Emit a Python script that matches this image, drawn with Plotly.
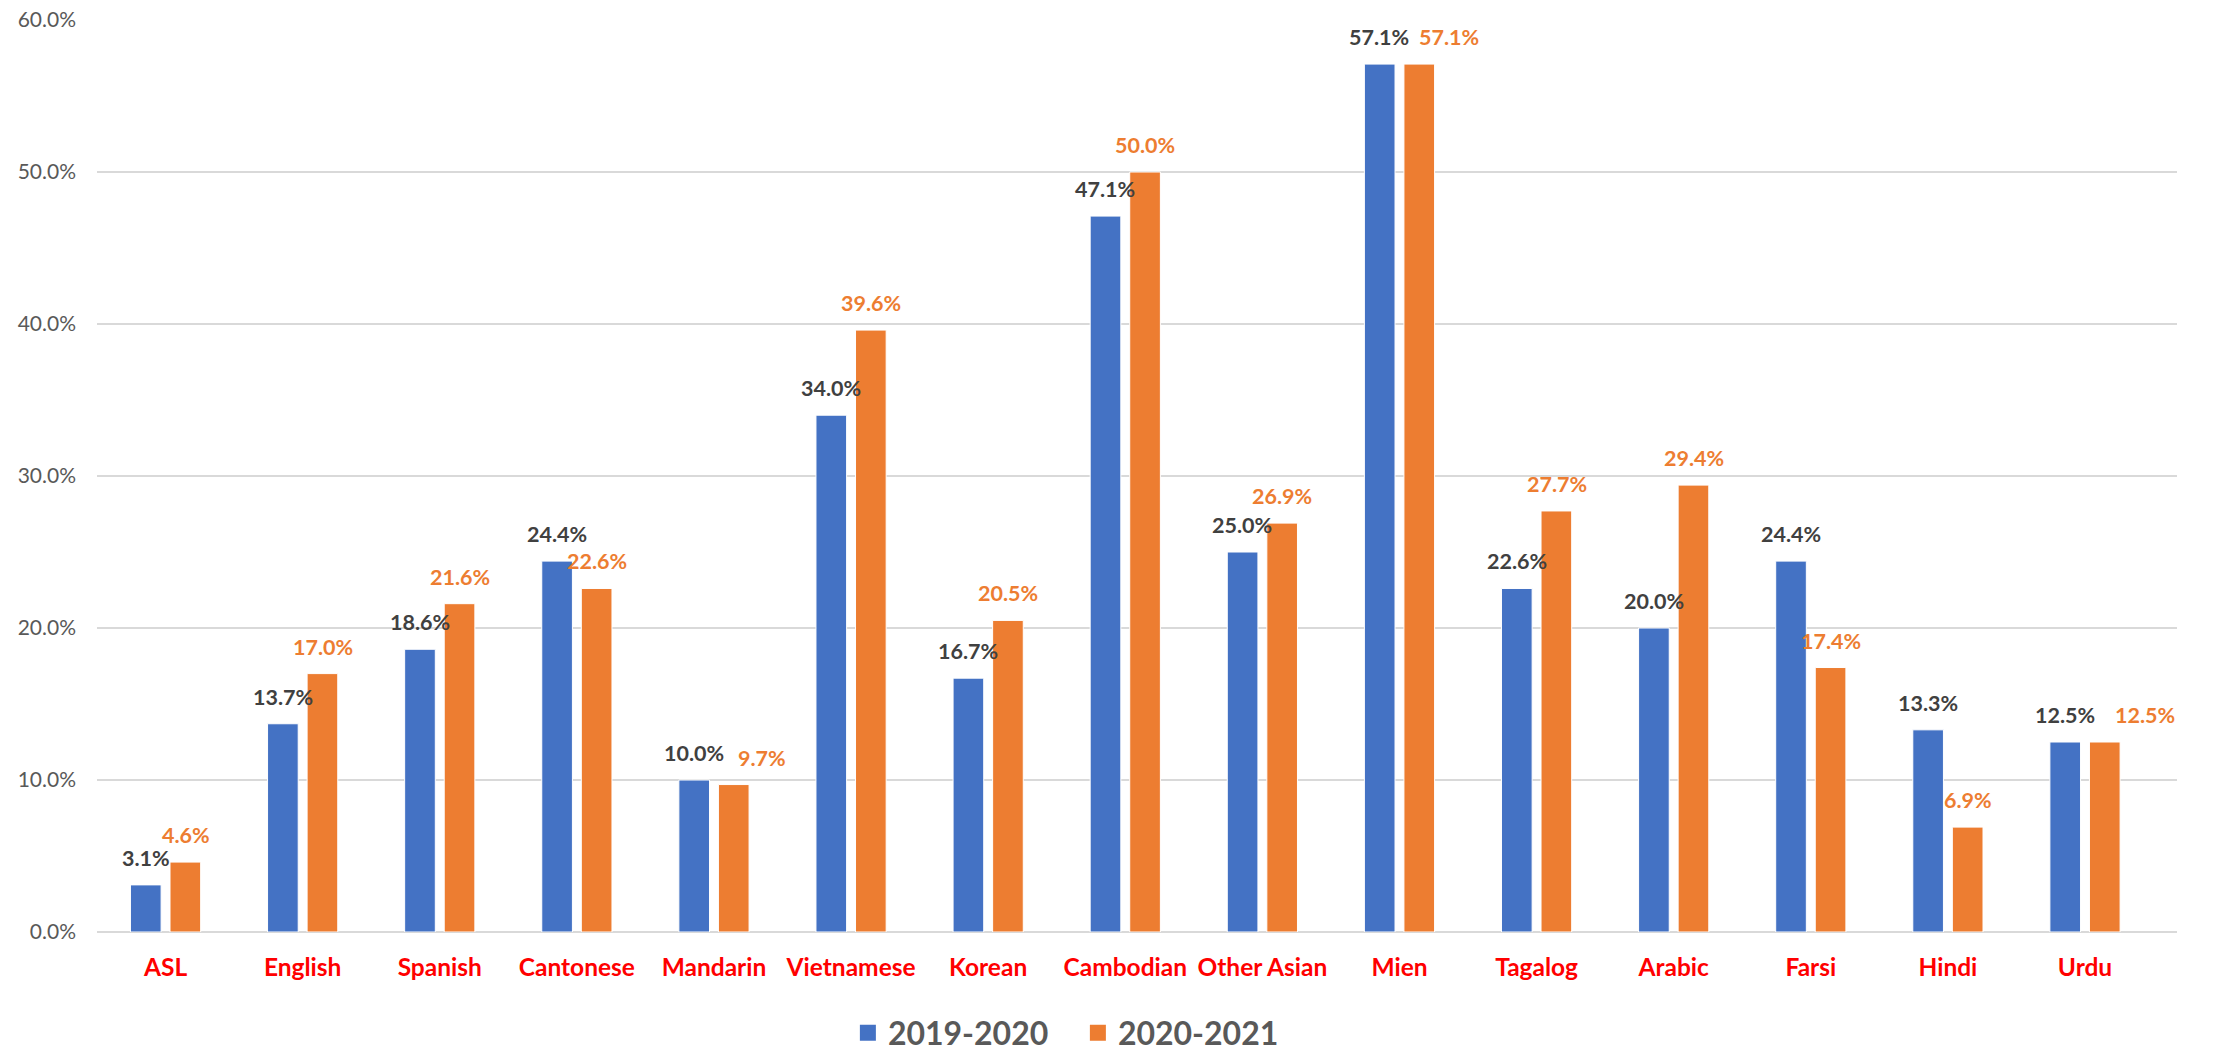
import plotly.graph_objects as go

languages = ["ASL", "English", "Spanish", "Cantonese", "Mandarin", "Vietnamese", "Korean",
             "Cambodian", "Other Asian", "Mien", "Tagalog", "Arabic", "Farsi", "Hindi", "Urdu"]
y2019_2020 = [3.1, 13.7, 18.6, 24.4, 10.0, 34.0, 16.7, 47.1, 25.0, 57.1, 22.6, 20.0, 24.4, 13.3, 12.5]
y2020_2021 = [4.6, 17.0, 21.6, 22.6, 9.7, 39.6, 20.5, 50.0, 26.9, 57.1, 27.7, 29.4, 17.4, 6.9, 12.5]
series_names = ["2019-2020", "2020-2021"]
y_ticks = [0, 10, 20, 30, 40, 50, 60]

# label nudges (px, to the right) for the 2020-2021 labels that would collide
label_nudge_2021 = {"Mandarin": 28, "Mien": 30, "Urdu": 40}

BLUE = "#4472C4"
ORANGE = "#ED7D31"
DARK = "#404040"
FONT = "Lato"

W, H = 2221, 1052
ML, MR, MT, MB = 97, 44, 20, 120
BARGAP, GROUPGAP = 0.423, 0.225

fig = go.Figure()
for name, vals, color in [(series_names[0], y2019_2020, BLUE), (series_names[1], y2020_2021, ORANGE)]:
    fig.add_trace(go.Bar(
        x=languages, y=[v / 100 for v in vals], name=name,
        marker=dict(color=color, line=dict(color="white", width=1)),
        showlegend=False, hoverinfo="x+y",
    ))
    # legend proxy with larger square icon
    fig.add_trace(go.Scatter(
        x=[None], y=[None], mode="markers", name=name,
        marker=dict(symbol="square", size=21, color=color), showlegend=True,
    ))

# data labels above bars, placed over each grouped bar
plot_w = W - ML - MR
slot = plot_w / len(languages) * (1 - BARGAP) / 2
half = slot / 2
for lang, v1, v2 in zip(languages, y2019_2020, y2020_2021):
    fig.add_annotation(x=lang, y=v1 / 100, xref="x", yref="y", text=f"{v1:.1f}%",
                       showarrow=False, xanchor="center", yanchor="bottom",
                       xshift=-half, yshift=12,
                       font=dict(family=FONT, size=21.5, color=DARK, weight="bold"))
    fig.add_annotation(x=lang, y=v2 / 100, xref="x", yref="y", text=f"{v2:.1f}%",
                       showarrow=False, xanchor="center", yanchor="bottom",
                       xshift=half + label_nudge_2021.get(lang, 0), yshift=12,
                       font=dict(family=FONT, size=21.5, color=ORANGE, weight="bold"))

fig.update_layout(
    width=W, height=H,
    margin=dict(l=ML, r=MR, t=MT, b=MB, autoexpand=False),
    plot_bgcolor="white", paper_bgcolor="white",
    barmode="group", bargap=BARGAP, bargroupgap=GROUPGAP,
    font=dict(family=FONT),
    showlegend=True,
    legend=dict(
        orientation="h", x=0.361, xanchor="left", y=-0.1107, yanchor="middle",
        font=dict(family=FONT, size=32, color="#595959", weight="bold"),
        itemwidth=30, entrywidth=185, entrywidthmode="pixels",
    ),
    xaxis=dict(
        tickfont=dict(family=FONT, size=24.5, color="#FF0000", weight="bold"),
        showgrid=False, showline=False, ticks="", ticklabelstandoff=18,
    ),
    yaxis=dict(
        range=[0, 0.6],
        tickvals=[t / 100 for t in y_ticks],
        tickformat=".1%",
        tickfont=dict(family=FONT, size=21, color="#595959"),
        showgrid=True, gridcolor="#D9D9D9", gridwidth=1.5,
        zeroline=True, zerolinecolor="#D9D9D9", zerolinewidth=1.5,
        showline=False, ticks="", ticklabelstandoff=20,
    ),
)

fig.write_html("out.html", config={"displayModeBar": False},
               post_script="document.body.style.margin='0';document.body.style.overflow='hidden';")
